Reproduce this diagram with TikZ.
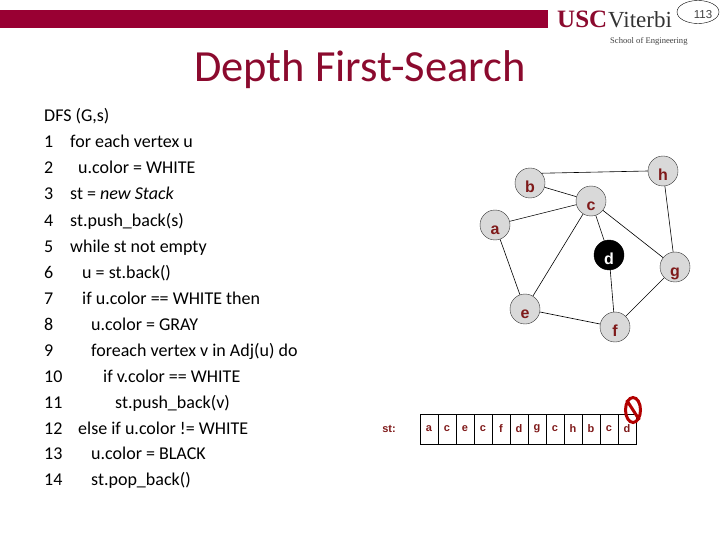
\documentclass[tikz,border=0pt]{standalone}
\usepackage{fontspec}
\setmainfont{Carlito}
\newfontfamily\arialfont{Liberation Sans}
\newfontfamily\timesfont{Liberation Serif}
\usetikzlibrary{arrows.meta,positioning,shapes.geometric}
\definecolor{uscred}{HTML}{990033}
\definecolor{labelred}{HTML}{7F1A1A}
\definecolor{titlered}{HTML}{8B0A2E}
\tikzset{
  vertexnode/.style={circle,draw=black!80,fill=black!15,minimum size=30pt,inner sep=0pt,text height=19pt,text depth=0pt,font=\arialfont\bfseries\fontsize{16}{16}\selectfont,text=labelred},
  stackcell/.style={draw=black,minimum width=18pt,minimum height=30pt,inner sep=0pt,outer sep=0pt,font=\arialfont\bfseries\fontsize{11}{11}\selectfont,text=labelred},
  codeline/.style={anchor=base west,inner sep=0pt,font=\fontsize{18}{18}\selectfont,text=black},
  graphedge/.style={draw=black,line width=0.6pt}
}
\begin{document}
\begin{tikzpicture}[x=1pt,y=-1pt]
\useasboundingbox (0,0) rectangle (720,540);
% header
\fill[uscred] (0,10) rectangle (548,28);
\node[anchor=base west,inner sep=0pt,text=titlered,font=\timesfont\bfseries\fontsize{25}{25}\selectfont] (usc) at (557,28) {USC};
\node[anchor=base west,inner sep=0pt,text=black!80,font=\timesfont\fontsize{23}{23}\selectfont] (viterbi) at (608,28) {Viterbi};
\node[anchor=base west,inner sep=0pt,text=black!75,font=\timesfont\fontsize{8.6}{8.6}\selectfont] (school) at (610,44) {School of Engineering};
\node[ellipse,draw=black,minimum width=42pt,minimum height=23pt,inner sep=0pt] (pagenum) at (698,12) {};
\node[inner sep=0pt,text=black!75,font=\arialfont\fontsize{11.5}{11.5}\selectfont] (pagetext) at (703,15) {113};
\node[text=titlered,inner sep=0pt,font=\fontsize{44.5}{44.5}\selectfont] (title) at (360,70) {Depth First-Search};
% pseudocode
\node[codeline] (head) at (44,122) {DFS (G,s)};
\node[codeline] (n1) at (44,148) {1};   \node[codeline] (l1) at (70,148) {for each vertex u};
\node[codeline] (n2) at (44,174) {2};   \node[codeline] (l2) at (78,174) {u.color = WHITE};
\node[codeline] (n3) at (44,200) {3};   \node[codeline] (l3) at (70,200) {st = \textit{new Stack}};
\node[codeline] (n4) at (44,226) {4};   \node[codeline] (l4) at (70,226) {st.push\_back(s)};
\node[codeline] (n5) at (44,252) {5};   \node[codeline] (l5) at (70,252) {while st not empty};
\node[codeline] (n6) at (44,278) {6};   \node[codeline] (l6) at (82,278) {u = st.back()};
\node[codeline] (n7) at (44,304) {7};   \node[codeline] (l7) at (82,304) {if u.color == WHITE then};
\node[codeline] (n8) at (44,330) {8};   \node[codeline] (l8) at (91,330) {u.color = GRAY};
\node[codeline] (n9) at (44,356) {9};   \node[codeline] (l9) at (91,356) {foreach vertex v in Adj(u) do};
\node[codeline] (n10) at (44,382) {10}; \node[codeline] (l10) at (103,382) {if v.color == WHITE};
\node[codeline] (n11) at (44,408) {11}; \node[codeline] (l11) at (115,408) {st.push\_back(v)};
\node[codeline] (n12) at (44,434) {12}; \node[codeline] (l12) at (78,434) {else if u.color != WHITE};
\node[codeline] (n13) at (44,459) {13}; \node[codeline] (l13) at (91,459) {u.color = BLACK};
\node[codeline] (n14) at (44,485) {14}; \node[codeline] (l14) at (91,485) {st.pop\_back()};
% graph
\node[vertexnode] (a) at (495,225) {a};
\node[vertexnode] (b) at (530,183) {b};
\node[vertexnode] (c) at (591,201) {c};
\node[vertexnode,fill=black,draw=black,text=white] (d) at (609,255) {d};
\node[vertexnode] (e) at (525,309) {e};
\node[vertexnode] (f) at (615,327) {f};
\node[vertexnode] (g) at (675,267) {g};
\node[vertexnode] (h) at (663,171) {h};
\draw[graphedge] (b.40)--(h.west);
\draw[graphedge] (b)--(c);
\draw[graphedge] (a)--(c);
\draw[graphedge] (a)--(e);
\draw[graphedge] (c)--(e);
\draw[graphedge] (c)--(d);
\draw[graphedge] (c)--(g);
\draw[graphedge] (d)--(f);
\draw[graphedge] (e)--(f);
\draw[graphedge] (f)--(g);
\draw[graphedge] (h)--(g);
% stack
\node[inner sep=0pt,text=labelred,font=\arialfont\bfseries\fontsize{11}{11}\selectfont] (stlabel) at (389,429) {st:};
\node[stackcell] (s0) at (429,429) {a};
\node[stackcell] (s1) at (447,429) {c};
\node[stackcell] (s2) at (465,429) {e};
\node[stackcell] (s3) at (483,429) {c};
\node[stackcell] (s4) at (501,429) {f};
\node[stackcell] (s5) at (519,429) {d};
\node[stackcell] (s6) at (537,429) {g};
\node[stackcell] (s7) at (555,429) {c};
\node[stackcell] (s8) at (573,429) {h};
\node[stackcell] (s9) at (591,429) {b};
\node[stackcell] (s10) at (609,429) {c};
\node[stackcell] (s11) at (627,429) {d};
\node[ellipse,draw=red!70!black,line width=3pt,minimum width=15pt,minimum height=25pt,inner sep=0pt] (nosign) at (633,410) {};
\draw[red!70!black,line width=3pt] (nosign.north west)--(nosign.south east);
\end{tikzpicture}
\end{document}
